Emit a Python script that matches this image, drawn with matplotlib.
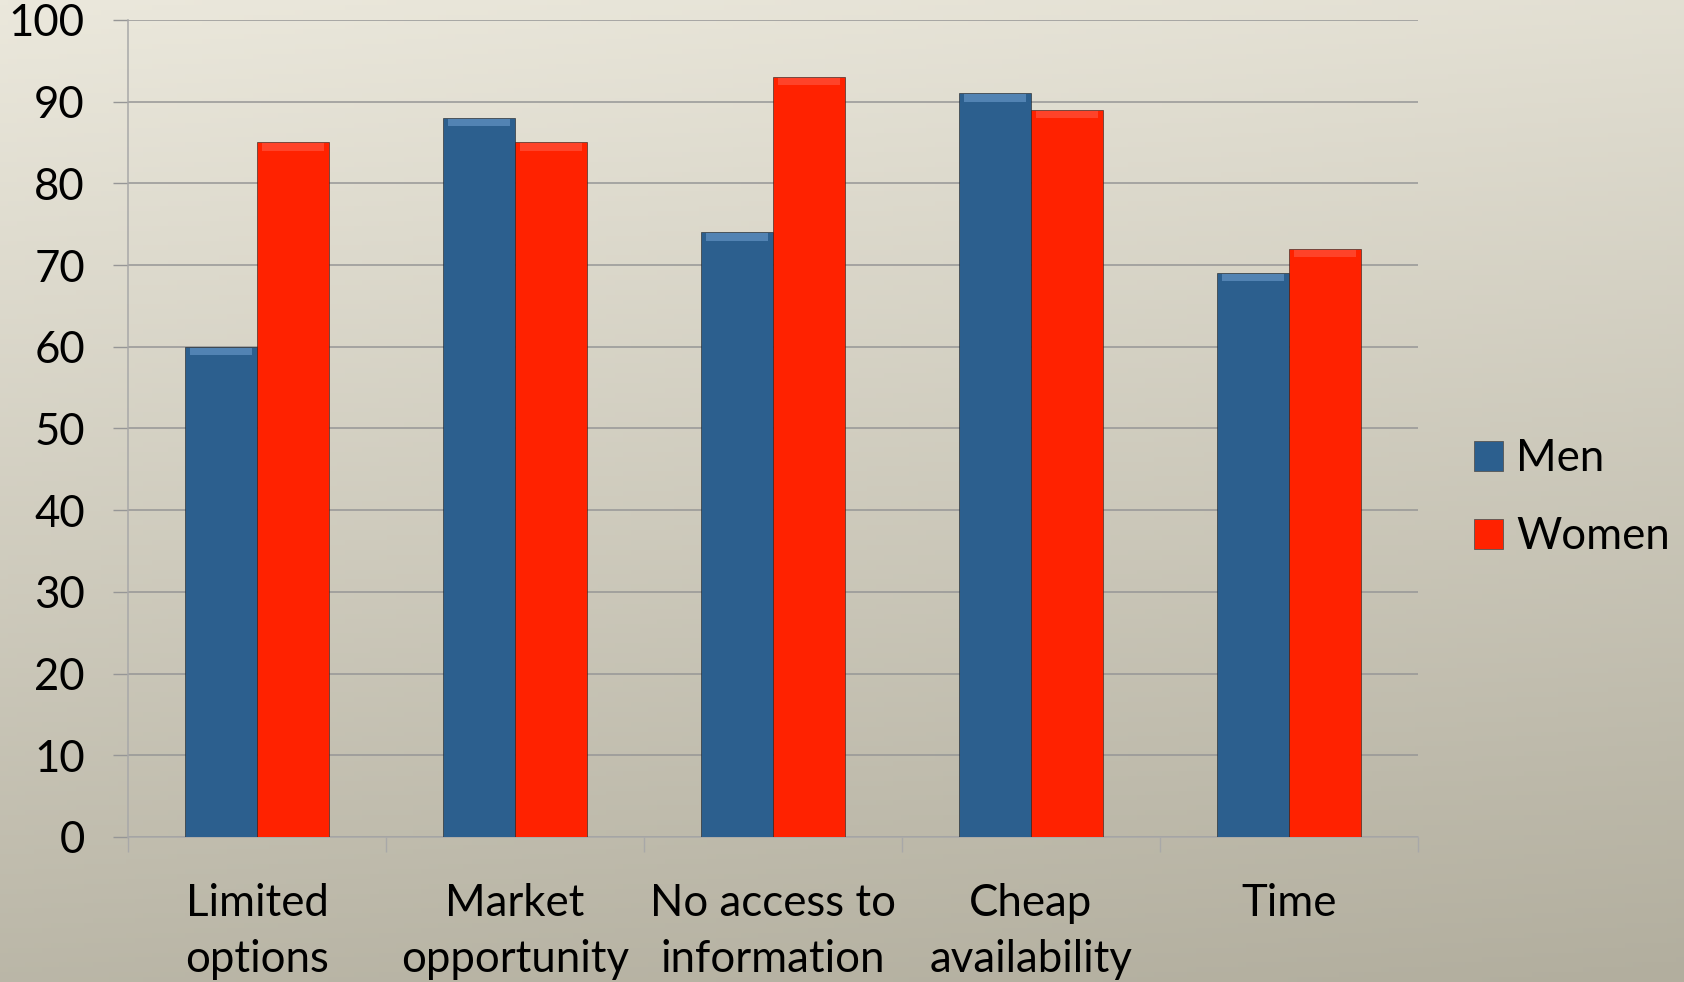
import numpy as np
import matplotlib
matplotlib.use("Agg")
import matplotlib.pyplot as plt
from matplotlib.patches import Rectangle

categories = ["Limited\noptions", "Market\nopportunity", "No access to\ninformation",
              "Cheap\navailability", "Time"]
men = [60, 88, 74, 91, 69]
women = [85, 85, 93, 89, 72]
series_labels = ["Men", "Women"]

blue = "#2c5f8e"
red = "#ff2200"
grid_gray = "#969696"

plt.rcParams["font.family"] = ["Lato", "DejaVu Sans"]
plt.rcParams["font.size"] = 31.5

fig = plt.figure(figsize=(16.84, 9.82), dpi=100)

# background gradient, light beige at the top to darker grey-beige at the bottom
bg = fig.add_axes([0, 0, 1, 1], zorder=-10)
yy, xx = np.mgrid[0:1:200j, 0:1:200j]
t = np.clip(0.85 * yy + 0.15 * xx, 0, 1)
top = np.array([235, 232, 220]) / 255
bottom = np.array([178, 174, 158]) / 255
img = top[None, None, :] * (1 - t[..., None]) + bottom[None, None, :] * t[..., None]
bg.imshow(img, aspect="auto", extent=[0, 1, 0, 1], origin="upper")
bg.set_axis_off()

ax = fig.add_axes([0.076, 0.1477, 0.766, 0.832])
ax.set_facecolor("none")

x = np.arange(len(categories)) + 0.5
w = 0.28
for vals, off, col, lab in [(men, -w / 2, blue, series_labels[0]),
                            (women, w / 2, red, series_labels[1])]:
    ax.bar(x + off, vals, width=w, color=col, edgecolor="#1e1e1e", linewidth=0.4,
           label=lab, zorder=3)
    # soft bevel along the top of each bar
    light = "#6d9ccc" if col == blue else "#ff5a45"
    ax.bar(x + off, [0.9] * len(vals), bottom=np.array(vals) - 1.0, width=w * 0.86,
           color=light, linewidth=0, zorder=4, alpha=0.6)

ax.set_xlim(0, len(categories))
ax.set_ylim(0, 100)
ax.set_yticks(np.arange(0, 101, 10))
ax.yaxis.grid(True, color=grid_gray, linewidth=1.1, zorder=0)
ax.set_axisbelow(True)

ax.set_xticks(np.arange(len(categories) + 1))
ax.set_xticklabels([])
ax.set_xticks(x, minor=True)
ax.set_xticklabels(categories, minor=True, linespacing=1.45)
ax.tick_params(axis="x", which="minor", length=0, pad=33)
ax.tick_params(axis="x", which="major", length=11, color="#a8a8a8", width=1.0)
ax.tick_params(axis="y", length=11, color=grid_gray, width=1.0, pad=20)

for s in ["top", "right"]:
    ax.spines[s].set_visible(False)
ax.spines["left"].set_color("#a8a8a8")
ax.spines["bottom"].set_color("#a8a8a8")
ax.spines["left"].set_linewidth(1.1)
ax.spines["bottom"].set_linewidth(1.1)

handles = [Rectangle((0, 0), 1, 1, facecolor=blue, edgecolor="#555555", linewidth=0.6),
           Rectangle((0, 0), 1, 1, facecolor=red, edgecolor="#555555", linewidth=0.6)]
fig.legend(handles, series_labels, loc="center left", bbox_to_anchor=(0.875, 0.493),
           frameon=False, borderaxespad=0, borderpad=0, handlelength=0.68,
           handleheight=0.68, handletextpad=0.3, labelspacing=0.85)

fig.savefig("out.png", dpi=100)
